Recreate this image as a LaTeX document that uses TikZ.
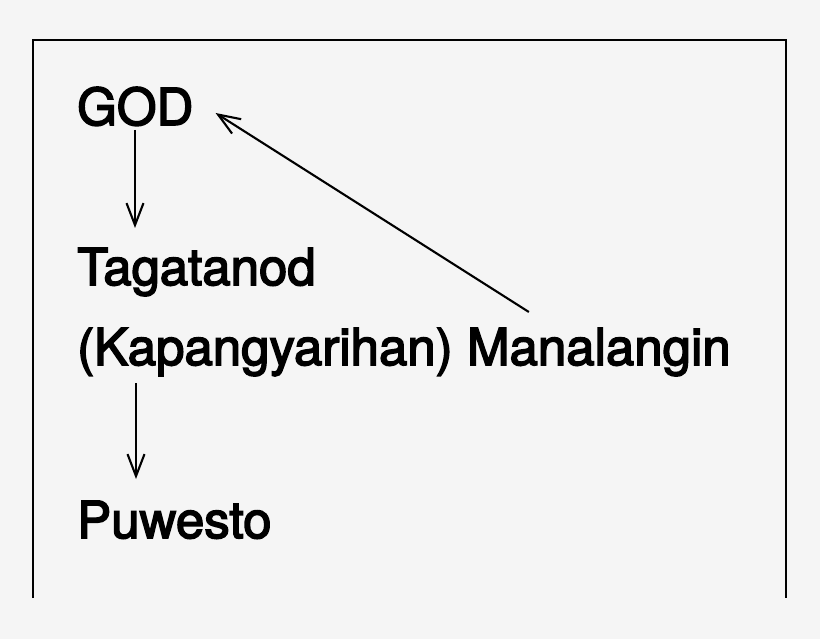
\documentclass[tikz,border=0pt]{standalone}
\usepackage{fontspec}
\setmainfont{TeX Gyre Heros}[FakeBold=3]
\usetikzlibrary{arrows.meta,calc}
\definecolor{bg}{HTML}{F5F5F5}
\begin{document}
\begin{tikzpicture}[x=1pt,y=1pt,
  lbl/.style={anchor=base west,inner sep=0pt,font=\fontsize{51}{51}\selectfont},
  arr/.style={line width=2.1pt,-{Straight Barb[length=22pt,width=17pt,line width=2.1pt]}},
  frame/.style={line width=1.5pt}]
\fill[bg] (0,0) rectangle (820,-639);
\useasboundingbox (0,0) rectangle (820,-639);
\draw[frame] (33,-598) -- (33,-40) -- (786,-40) -- (786,-598);
\node[lbl] (GOD) at (77,-125) {GOD};
\node[lbl] (Taga) at (77,-285) {Tagatanod};
\node[lbl] (Kap) at (77,-365) {(Kapangyarihan)};
\node[lbl] (Man) at ($(Kap.base east)+(14,0)$) {Manalangin};
\node[lbl] (Puw) at (77,-538) {Puwesto};
\draw[arr] ($(GOD.base west)+(58,-5)$) -- ($(GOD.base west)+(58,-103)$);
\draw[arr] ($(Kap.base west)+(59,-18)$) -- ($(Kap.base west)+(59,-114)$);
\draw[arr] ($(Man.base west)+(62,53)$) -- ($(GOD.base east)+(22,12)$);
\end{tikzpicture}
\end{document}
